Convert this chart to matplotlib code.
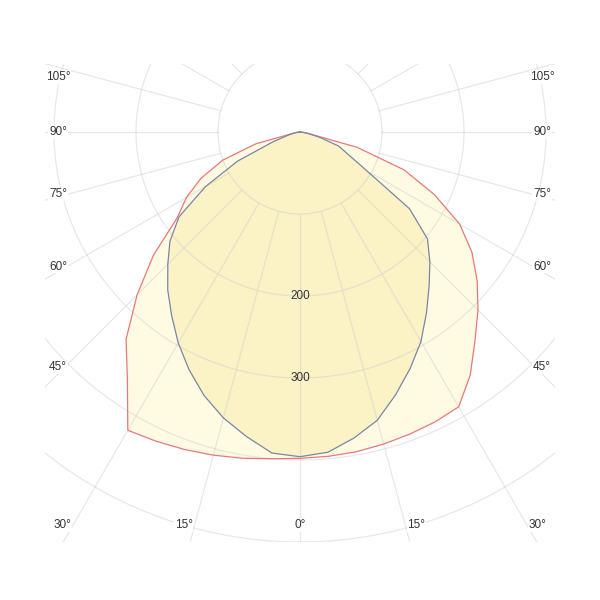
import numpy as np
import matplotlib
matplotlib.use("Agg")
import matplotlib.pyplot as plt
from matplotlib.patches import Rectangle

# luminous intensity (cd/klm) every 5 deg from nadir, both half-planes
angles = [0, 5, 10, 15, 20, 25, 30, 35, 40, 45, 50, 55, 60, 65, 70, 75, 80, 85, 90]
outer_left = [398, 400, 404, 408, 412, 416, 420, 367, 330, 281, 233, 183, 160, 133, 100, 56, 8, 3, 0]
outer_right = [398, 397, 396, 394, 392, 390, 387, 362, 332, 307, 282, 256, 225, 181, 135, 72, 10, 3, 0]
inner_left = [396, 393, 377, 361, 342, 320, 297, 273, 251, 228, 207, 180, 133, 84, 35, 15, 6, 2, 0]
inner_right = [396, 392, 379, 364, 341, 318, 295, 269, 245, 224, 203, 163, 93, 65, 50, 25, 10, 3, 0]

ring_values = [100, 200, 300, 400, 500]
ring_labels = [200, 300]
label_angles = [105, 90, 75, 60, 45, 30, 15, 0]

PX = 0.82          # pixels per cd/klm
CX, CY = 300, 132  # pole position in pixels


def to_xy(ang, vals, side):
    a = np.radians(np.asarray(ang, dtype=float))
    v = np.asarray(vals, dtype=float)
    return side * v * np.sin(a), -v * np.cos(a)


def curve(left, right):
    xl, yl = to_xy(angles, left, -1)
    xr, yr = to_xy(angles, right, 1)
    x = np.concatenate([xl[::-1], xr[1:]])
    y = np.concatenate([yl[::-1], yr[1:]])
    return x, y


fig = plt.figure(figsize=(6, 6), dpi=100)
ax = fig.add_axes([0, 0, 1, 1])
ax.set_xlim(-CX / PX, (600 - CX) / PX)
ax.set_ylim(-(600 - CY) / PX, CY / PX)
ax.axis("off")

# fills
xo, yo = curve(outer_left, outer_right)
xi, yi = curve(inner_left, inner_right)
ax.fill(xo, yo, color="#fefbe2", zorder=1, lw=0)
ax.fill(xi, yi, color="#fbf2c6", zorder=2, lw=0)

# grid, clipped to the drawing frame
clip = Rectangle((-255 / PX, -(542 - CY) / PX), 510 / PX, 478 / PX,
                 transform=ax.transData, visible=False)
ax.add_patch(clip)
t = np.linspace(0, 2 * np.pi, 400)
for r in ring_values:
    ln, = ax.plot(r * np.cos(t), r * np.sin(t), color="#cccccc", lw=0.9,
                  alpha=0.45, zorder=3)
    ln.set_clip_path(clip)
for g in range(-180, 181, 15):
    a = np.radians(g)
    ln, = ax.plot([100 * np.sin(a), 800 * np.sin(a)],
                  [-100 * np.cos(a), -800 * np.cos(a)],
                  color="#cccccc", lw=0.9, alpha=0.45, zorder=3)
    ln.set_clip_path(clip)

# outlines
ax.plot(xo, yo, color="#e8787c", lw=0.9, zorder=4)
ax.plot(xi, yi, color="#7a86a8", lw=0.9, zorder=5)

txt = dict(fontsize=8.5, color="#333333", family=["Liberation Sans", "DejaVu Sans"],
           ha="center", va="center", zorder=6)
for v in ring_labels:
    ax.text(0, -v, str(v), **txt)

side_x = 242 / PX
bottom_y = -(525 - CY) / PX
top_y = (CY - 77) / PX
for g in label_angles:
    a = np.radians(g)
    for side in (-1, 1):
        if g == 0 and side == 1:
            continue
        if g >= 45:
            y = -side_x * np.cos(a) / np.sin(a) + 10 * np.cos(a) / PX
            y = min(y, top_y)
            x = side * side_x
        else:
            y = bottom_y
            x = side * (-bottom_y * np.tan(a) + (11 / PX if g else 0))
        ax.text(x, y, f"{g}°", bbox=dict(fc="white", ec="none", pad=0.5), **txt)

fig.savefig("out.png", dpi=100)
